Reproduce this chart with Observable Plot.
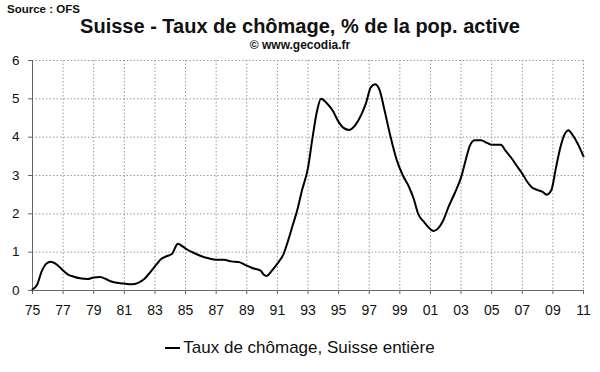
<!DOCTYPE html>
<html>
<head>
<meta charset="utf-8">
<script src="https://cdn.jsdelivr.net/npm/d3@7"></script>
<script src="https://cdn.jsdelivr.net/npm/@observablehq/plot@0.6"></script>
<style>
  body { margin: 0; background: #fff; }
  #wrap { position: relative; width: 600px; height: 372px; font-family: "Liberation Sans", Arial, sans-serif; overflow: hidden; }
  .abs { position: absolute; white-space: nowrap; }
  #source { left: 7px; top: 3px; font-size: 11.5px; font-weight: bold; color: #111; }
  #title { left: 0; width: 600px; top: 15px; text-align: center; font-size: 20px; font-weight: bold; color: #111; }
  #subtitle { left: 0; width: 600px; top: 38px; text-align: center; font-size: 12px; font-weight: bold; color: #111; }
  #chart { left: 0; top: 50px; }
  #legend { left: 0; width: 600px; top: 338px; text-align: center; font-size: 17px; color: #111; }
  #legend .sw { display: inline-block; width: 15px; height: 0; border-top: 2px solid #000; vertical-align: middle; margin-right: 3px; position: relative; top: -1px; }
</style>
</head>
<body>
<div id="wrap">
  <div id="source" class="abs">Source : OFS</div>
  <div id="title" class="abs">Suisse - Taux de chômage, % de la pop. active</div>
  <div id="subtitle" class="abs">© www.gecodia.fr</div>
  <div id="chart" class="abs"></div>
  <div id="legend" class="abs"><span class="sw"></span>Taux de chômage, Suisse entière</div>
</div>
<script>
const years = [
  1975.0, 1975.3, 1975.6, 1975.9, 1976.2, 1976.5, 1976.8, 1977.0, 1977.3, 1977.7,
  1978.1, 1978.6, 1979.0, 1979.4, 1979.8, 1980.1, 1980.5, 1981.0, 1981.5, 1981.9,
  1982.3, 1982.7, 1983.1, 1983.4, 1983.8, 1984.1, 1984.5, 1984.8, 1985.1, 1985.6,
  1986.0, 1986.5, 1987.0, 1987.5, 1988.0, 1988.5, 1989.0, 1989.4, 1989.9, 1990.1,
  1990.3, 1990.6, 1991.0, 1991.4, 1991.7, 1992.0, 1992.3, 1992.6, 1993.0, 1993.3,
  1993.6, 1993.85, 1994.2, 1994.6, 1995.0, 1995.3, 1995.7, 1996.1, 1996.5, 1996.8,
  1997.1, 1997.4, 1997.7, 1998.0, 1998.4, 1998.8, 1999.2, 1999.6, 1999.9, 2000.2,
  2000.6, 2001.0, 2001.2, 2001.5, 2001.8, 2002.2, 2002.6, 2003.0, 2003.3, 2003.6,
  2003.9, 2004.3, 2004.7, 2005.0, 2005.6, 2005.9, 2006.3, 2006.7, 2007.0, 2007.3,
  2007.6, 2008.0, 2008.3, 2008.6, 2008.9, 2009.2, 2009.5, 2009.8, 2010.0, 2010.3,
  2010.6, 2011.0
];
const rates = [
  0.03, 0.15, 0.5, 0.7, 0.75, 0.7, 0.6, 0.52, 0.42, 0.36,
  0.32, 0.3, 0.34, 0.35, 0.3, 0.24, 0.2, 0.18, 0.16, 0.2,
  0.3, 0.48, 0.68, 0.82, 0.9, 0.95, 1.22, 1.15, 1.07, 0.97,
  0.9, 0.84, 0.8, 0.8, 0.76, 0.74, 0.65, 0.58, 0.52, 0.42,
  0.38, 0.5, 0.7, 0.95, 1.3, 1.7, 2.1, 2.6, 3.2, 4.0,
  4.7, 5.0, 4.9, 4.7, 4.4, 4.25, 4.19, 4.32, 4.6, 4.9,
  5.3, 5.38, 5.2, 4.7, 4.0, 3.4, 3.0, 2.7, 2.4, 2.0,
  1.78, 1.6, 1.55, 1.62, 1.8, 2.2, 2.55, 2.95, 3.4, 3.8,
  3.92, 3.92, 3.85, 3.8, 3.8, 3.65, 3.45, 3.22, 3.05, 2.85,
  2.7, 2.62, 2.58, 2.5, 2.62, 3.2, 3.75, 4.1, 4.18, 4.05,
  3.85, 3.5
];
const xTicks = d3.range(1975, 2012, 2);
const yTicks = [0, 1, 2, 3, 4, 5, 6];

const data = years.map((t, i) => ({t, v: rates[i]}));

const chart = Plot.plot({
  width: 600,
  height: 270,
  marginTop: 10,
  marginBottom: 30,
  marginLeft: 32,
  marginRight: 17,
  style: {fontFamily: "Liberation Sans, Arial, sans-serif", fontSize: "12px", color: "#111", background: "transparent"},
  x: {domain: [1975, 2011]},
  y: {domain: [0, 6]},
  marks: [
    Plot.gridX(xTicks.slice(1), {stroke: "#9a9a9a", strokeOpacity: 1, strokeDasharray: "1.5,2"}),
    Plot.gridY(yTicks.slice(1), {stroke: "#9a9a9a", strokeOpacity: 1, strokeDasharray: "1.5,2"}),
    Plot.ruleY([0], {stroke: "#666"}),
    Plot.ruleX([1975], {stroke: "#666"}),
    Plot.axisX(xTicks, {tickFormat: d => String(d % 100).padStart(2, "0"), tickSize: 4, tickPadding: 11, stroke: "#666", label: null, fontSize: 14}),
    Plot.axisY(yTicks, {tickSize: 4, tickPadding: 9, stroke: "#666", label: null, fontSize: 13.5}),
    Plot.line(data, {x: "t", y: "v", stroke: "#000", strokeWidth: 2, curve: "monotone-x"})
  ]
});
document.getElementById("chart").appendChild(chart);
</script>
</body>
</html>
